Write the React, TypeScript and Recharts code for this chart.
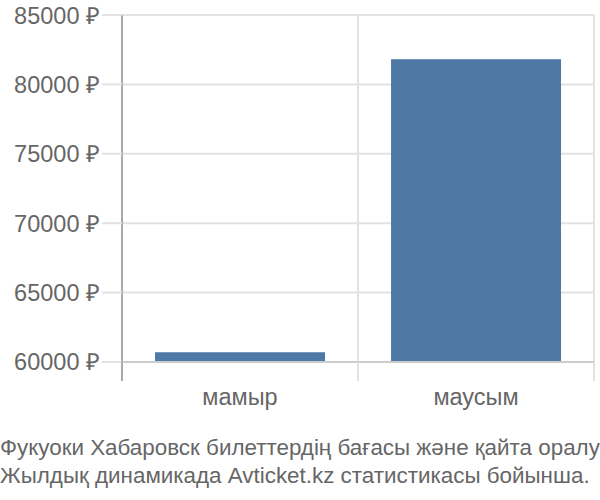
import {
  BarChart,
  Bar,
  XAxis,
  YAxis,
  CartesianGrid,
  ReferenceLine,
} from "recharts";

const months = ["мамыр", "маусым"];
const prices = [60700, 81820];
const priceTicks = [60000, 65000, 70000, 75000, 80000, 85000];
const baseline = 60000;
const boundaryTicks = [0, 1, 2];
const bottomTicks = [0, 0.5, 1, 1.5, 2];
const captionLines = [
  "Фукуоки Хабаровск билеттердің бағасы және қайта оралу",
  "Жылдық динамикада Avticket.kz статистикасы бойынша.",
];

// pos = middle of each month's slot on the 0..2 boundary scale
const data = months.map((month, i) => ({ month, price: prices[i], pos: i + 0.5 }));

const font = "'Liberation Sans', Arial, sans-serif";

// integer values -> separator tick, half values -> month label
const BottomTick = (props: any) => {
  const { x, y, payload } = props;
  const v = payload.value;
  if (Number.isInteger(v)) {
    return (
      <line
        x1={x}
        x2={x}
        y1={y}
        y2={y + 19}
        stroke={v === 0 ? "#aaaaaa" : "#e2e2e2"}
        strokeWidth={2}
      />
    );
  }
  return (
    <text
      x={x}
      y={y + 43}
      textAnchor="middle"
      fill="#666666"
      fontSize={23.5}
      fontFamily={font}
    >
      {months[Math.floor(v)]}
    </text>
  );
};

const App = () => {
  return (
    <div style={{ position: "absolute", left: 0, top: 0, width: 600, height: 500 }}>
      <BarChart
        width={600}
        height={430}
        data={data}
        margin={{ top: 15, right: 6, left: 0, bottom: 0 }}
        barCategoryGap="14%"
      >
        <XAxis xAxisId="months" dataKey="month" hide />
        <XAxis
          xAxisId="grid"
          type="number"
          dataKey="pos"
          domain={[0, 2]}
          allowDataOverflow
          ticks={boundaryTicks}
          hide
        />
        <XAxis
          xAxisId="bounds"
          type="number"
          dataKey="pos"
          domain={[0, 2]}
          allowDataOverflow
          ticks={bottomTicks}
          interval={0}
          height={68}
          axisLine={false}
          tickLine={false}
          tickSize={0}
          tickMargin={0}
          tick={<BottomTick />}
        />
        <CartesianGrid xAxisId="grid" stroke="#e2e2e2" strokeWidth={2} />
        <YAxis
          domain={[60000, 85000]}
          ticks={priceTicks}
          width={122}
          tickFormatter={(v: number) => `${v} ₽`}
          axisLine={{ stroke: "#aaaaaa", strokeWidth: 2 }}
          tickLine={{ stroke: "#e2e2e2", strokeWidth: 2 }}
          tickSize={20}
          tick={{ fill: "#666666", fontSize: 23.5, fontFamily: font }}
        />
        <ReferenceLine
          xAxisId="months"
          y={baseline}
          stroke="#cccccc"
          strokeWidth={2}
        />
        <Bar
          xAxisId="months"
          dataKey="price"
          fill="#4e79a7"
          isAnimationActive={false}
        />
      </BarChart>
      <div
        style={{
          fontFamily: font,
          fontSize: 22.4,
          color: "#666666",
          lineHeight: "28px",
          marginTop: 4,
          whiteSpace: "nowrap",
        }}
      >
        {captionLines.map((line) => (
          <div key={line}>{line}</div>
        ))}
      </div>
    </div>
  );
};

export default App;
